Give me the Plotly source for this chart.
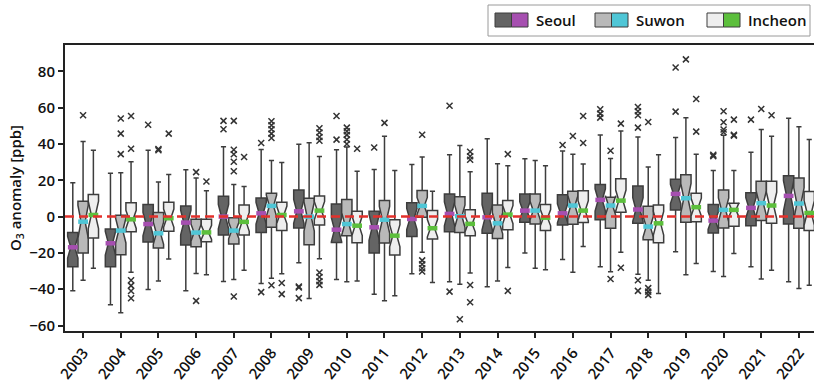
import plotly.graph_objects as go

years = [str(y) for y in range(2003, 2023)]

# Seoul
seoul_low = [-40.9, -48.6, -40.1, -40.9, -35.7, -36.8, -25.4, -34.6, -42.7, -31.5, -35.9, -38.7, -20.1, -23.6, -27.6, -31.7, -19.3, -30.2, -27.6, -35.9]
seoul_q1 = [-27.6, -27.6, -14.0, -15.7, -10.1, -8.8, -6.3, -14.2, -20.1, -10.9, -8.3, -9.2, -3.1, -4.6, -1.8, -3.7, 3.7, -9.0, -5.0, -4.1]
seoul_med = [-16.9, -14.7, -4.1, -3.3, 0.0, 1.8, 2.9, -7.2, -5.9, -1.3, 1.5, -0.4, 3.3, 1.8, 9.2, 3.9, 12.5, -2.2, 4.8, 11.4]
seoul_q3 = [-8.7, -6.8, 6.6, 5.9, 11.2, 10.3, 14.7, 7.0, 2.9, 7.6, 12.5, 12.9, 12.5, 12.0, 17.7, 16.9, 20.6, 6.6, 13.1, 22.5]
seoul_high = [18.6, 23.9, 36.6, 25.8, 38.5, 37.0, 39.8, 36.8, 26.0, 28.7, 34.1, 42.9, 31.9, 36.1, 44.9, 43.8, 43.5, 25.4, 35.5, 54.1]
seoul_out_x = ["2005", "2007", "2007", "2008", "2008", "2009", "2009", "2009", "2010", "2010", "2011",
               "2013", "2013", "2016", "2017", "2017", "2017", "2018", "2018", "2018", "2018", "2018", "2018",
               "2019", "2019", "2020", "2020", "2021"]
seoul_out_y = [50.6, 52.7, 48.1, 40.5, -41.6, -38.5, -39.0, -44.9, 55.4, 42.4, 38.1,
               61.0, -41.3, 39.4, 59.1, 56.7, 54.5, 60.4, 58.0, 55.8, 49.0, -35.0, -40.9,
               82.1, 57.8, 34.1, 33.3, 53.4]

# Suwon
suwon_low = [-35.0, -52.9, -35.4, -31.3, -34.6, -33.9, -45.1, -35.9, -46.4, -19.7, -37.2, -35.4, -28.5, -30.6, -30.4, -35.0, -32.0, -33.0, -34.4, -39.6]
suwon_q1 = [-20.1, -21.0, -17.3, -16.6, -15.1, -5.9, -15.5, -10.5, -14.6, -0.4, -8.7, -12.0, -4.1, -4.2, -6.4, -12.7, -3.1, -6.3, -2.2, -6.4]
suwon_med = [-2.8, -7.7, -9.2, -8.8, -7.7, 5.9, 0.0, -4.1, -1.7, 5.9, 0.2, -3.7, 3.3, 6.1, 6.1, -5.5, 10.1, 3.7, 7.4, 7.2]
suwon_q3 = [8.5, 0.7, 2.2, -1.5, -0.7, 12.9, 10.1, 9.4, 8.8, 14.4, 11.0, 6.4, 12.5, 14.0, 10.7, 5.7, 23.0, 14.7, 19.5, 21.2]
suwon_high = [41.4, 24.1, 19.0, 21.2, 17.7, 30.9, 40.7, 38.3, 44.2, 32.8, 39.2, 29.1, 30.9, 34.3, 32.0, 27.3, 54.5, 44.8, 47.9, 49.5]
suwon_out_x = ["2003", "2004", "2004", "2004", "2005", "2005", "2006", "2006",
               "2007", "2007", "2007", "2007", "2007", "2007",
               "2008", "2008", "2008", "2008", "2008", "2008",
               "2010", "2010", "2010", "2010", "2010", "2011",
               "2012", "2012", "2012", "2012", "2012", "2013",
               "2016", "2017", "2017", "2018", "2018", "2018", "2018",
               "2019", "2020", "2020", "2020", "2020", "2021"]
suwon_out_y = [55.8, 54.0, 45.7, 34.4, 37.2, 36.5, 24.5, -46.4,
               52.7, 36.8, 34.3, 30.2, 25.0, -44.0,
               52.5, 50.3, 48.1, 45.7, 43.3, -37.8,
               49.0, 47.0, 45.0, 42.5, 40.0, 51.6,
               45.1, -24.1, -26.2, -28.4, -30.2, -56.5,
               44.4, 36.3, -34.4, 52.1, -39.4, -41.3, -43.1,
               86.6, 58.0, 52.0, 48.0, 46.5, 59.3]

# Incheon
incheon_low = [-28.5, -30.6, -23.4, -32.0, -29.5, -31.5, -23.2, -35.4, -43.6, -36.3, -31.1, -28.0, -29.3, -16.4, -19.7, -42.4, -25.8, -20.3, -29.5, -37.8]
incheon_q1 = [-11.8, -8.3, -8.1, -13.8, -10.1, -7.7, -4.6, -14.4, -21.2, -12.3, -10.5, -7.2, -7.7, -3.3, 2.4, -14.4, -2.8, -5.3, -3.7, -7.7]
incheon_med = [0.9, -1.5, -0.9, -8.7, -2.9, 0.9, 3.3, -5.0, -10.5, -6.4, -4.0, 1.1, -0.6, 3.3, 8.8, -3.7, 5.2, 3.7, 6.1, 2.0]
incheon_q3 = [12.2, 7.6, 7.9, -1.5, 6.4, 7.9, 11.4, 2.9, -1.8, 3.3, 3.8, 8.8, 6.6, 14.2, 20.9, 6.4, 12.9, 7.4, 19.5, 13.8]
incheon_high = [36.6, 30.2, 23.2, 14.2, 16.6, 29.8, 33.1, 25.0, 25.4, 14.0, 24.7, 28.0, 28.0, 28.9, 47.1, 34.1, 34.3, 25.4, 44.2, 42.5]
incheon_out_x = ["2004", "2004", "2004", "2004", "2004", "2004", "2005", "2006", "2007",
                 "2008", "2008", "2009", "2009", "2009", "2009", "2009", "2009", "2009", "2009",
                 "2010", "2013", "2013", "2013", "2013", "2013", "2014", "2014",
                 "2016", "2016", "2017", "2017", "2019", "2019", "2020", "2020", "2020", "2021"]
incheon_out_y = [55.4, 37.4, -35.0, -38.0, -41.0, -45.0, 45.7, 19.3, 32.8,
                 -36.6, -42.7, 48.7, 46.3, 43.8, 41.8, -30.8, -33.3, -35.6, -37.6,
                 37.4, 35.7, 33.2, 31.3, -37.7, -47.2, 34.4, -40.9,
                 55.4, 40.5, 51.2, -28.2, 64.8, 46.8, 53.4, 45.1, 44.6, 55.8]

cities = ["Seoul", "Suwon", "Incheon"]
stats = {
    "Seoul": (seoul_low, seoul_q1, seoul_med, seoul_q3, seoul_high, seoul_out_x, seoul_out_y),
    "Suwon": (suwon_low, suwon_q1, suwon_med, suwon_q3, suwon_high, suwon_out_x, suwon_out_y),
    "Incheon": (incheon_low, incheon_q1, incheon_med, incheon_q3, incheon_high, incheon_out_x, incheon_out_y),
}
box_fill = {"Seoul": "#646464", "Suwon": "#b9b9b9", "Incheon": "#eeeeee"}
med_color = {"Seoul": "#a64fb0", "Suwon": "#4fc6d6", "Incheon": "#5cbf3c"}
n_days = 25  # sample size used for the notch half-width (1.57*IQR/sqrt(n))

GAP = 0.18
fig = go.Figure()
for c in cities:
    lo, q1, md, q3, hi, ox, oy = stats[c]
    notch = [1.57 * (b - a) / n_days ** 0.5 for a, b in zip(q1, q3)]
    fig.add_trace(go.Box(
        x=years, q1=q1, median=md, q3=q3, lowerfence=lo, upperfence=hi,
        notched=True, notchspan=notch, notchwidth=0.3,
        fillcolor=box_fill[c], line=dict(color="#3d3d3d", width=1.5),
        whiskerwidth=0.5, offsetgroup=c, name=c, showlegend=False,
    ))
for c in cities:
    lo, q1, md, q3, hi, ox, oy = stats[c]
    fig.add_trace(go.Scatter(
        x=years, y=md, mode="markers", offsetgroup=c, showlegend=False,
        marker=dict(symbol="line-ew", size=7, color=med_color[c],
                    line=dict(color=med_color[c], width=4.5)),
    ))
    fig.add_trace(go.Scatter(
        x=ox, y=oy, mode="markers", offsetgroup=c, showlegend=False,
        marker=dict(symbol="x-thin-open", size=6, color="#333333",
                    line=dict(color="#333333", width=1.5)),
    ))

W, H = 814, 382
L, R, T, B = 65, 0, 45, 51
pw, ph = W - L - R, H - T - B


def px(x):
    return (x - L) / pw


def py(y):
    return (H - B - y) / ph


shapes = [dict(type="line", xref="paper", yref="y", x0=0, x1=1, y0=0, y1=0,
               line=dict(color="#e3302b", width=2.5, dash="9px,5px"), layer="above")]
# legend frame
shapes.append(dict(type="rect", xref="paper", yref="paper", x0=px(488), x1=px(810), y0=py(36), y1=py(5),
                   line=dict(color="#9a9a9a", width=1), fillcolor="white", layer="above"))
annotations = []
legend_pos = {"Seoul": 495, "Suwon": 595, "Incheon": 707}
for c in cities:
    x0 = legend_pos[c]
    shapes.append(dict(type="rect", xref="paper", yref="paper", x0=px(x0), x1=px(x0 + 16.5),
                       y0=py(27), y1=py(13), fillcolor=box_fill[c],
                       line=dict(color="#3d3d3d", width=1), layer="above"))
    shapes.append(dict(type="rect", xref="paper", yref="paper", x0=px(x0 + 16.5), x1=px(x0 + 33),
                       y0=py(27), y1=py(13), fillcolor=med_color[c],
                       line=dict(color="#3d3d3d", width=1), layer="above"))
    annotations.append(dict(xref="paper", yref="paper", x=px(x0 + 39), y=py(20), text=c,
                            showarrow=False, xanchor="left", yanchor="middle",
                            font=dict(family="Open Sans", size=15, color="#111111", weight=600)))

fig.update_layout(
    width=W, height=H, margin=dict(l=L, r=R, t=T, b=B),
    paper_bgcolor="white", plot_bgcolor="white",
    boxmode="group", boxgap=GAP, boxgroupgap=0,
    scattermode="group", scattergap=GAP,
    font=dict(family="Open Sans", size=14, color="#111111"),
    shapes=shapes, annotations=annotations,
    xaxis=dict(type="category", categoryorder="array", categoryarray=years,
               range=[-0.48, 19.4], showline=True, linecolor="#222222", linewidth=2, mirror=True,
               ticks="outside", ticklen=5, tickwidth=1.5, tickcolor="#222222", tickangle=-52,
               showgrid=False, zeroline=False,
               tickfont=dict(family="Open Sans", size=15, color="#111111", weight=600)),
    yaxis=dict(range=[-63, 94.5], tickvals=[-60, -40, -20, 0, 20, 40, 60, 80],
               showline=True, linecolor="#222222", linewidth=2, mirror=False,
               ticks="outside", ticklen=5, tickwidth=1.5, tickcolor="#222222",
               showgrid=False, zeroline=False,
               tickfont=dict(family="Open Sans", size=15, color="#111111", weight=600),
               title=dict(text="O<sub>3</sub> anomaly [ppb]", standoff=4,
                          font=dict(family="Open Sans", size=15, color="#111111", weight=600))),
)

fig.write_html("out.html")
